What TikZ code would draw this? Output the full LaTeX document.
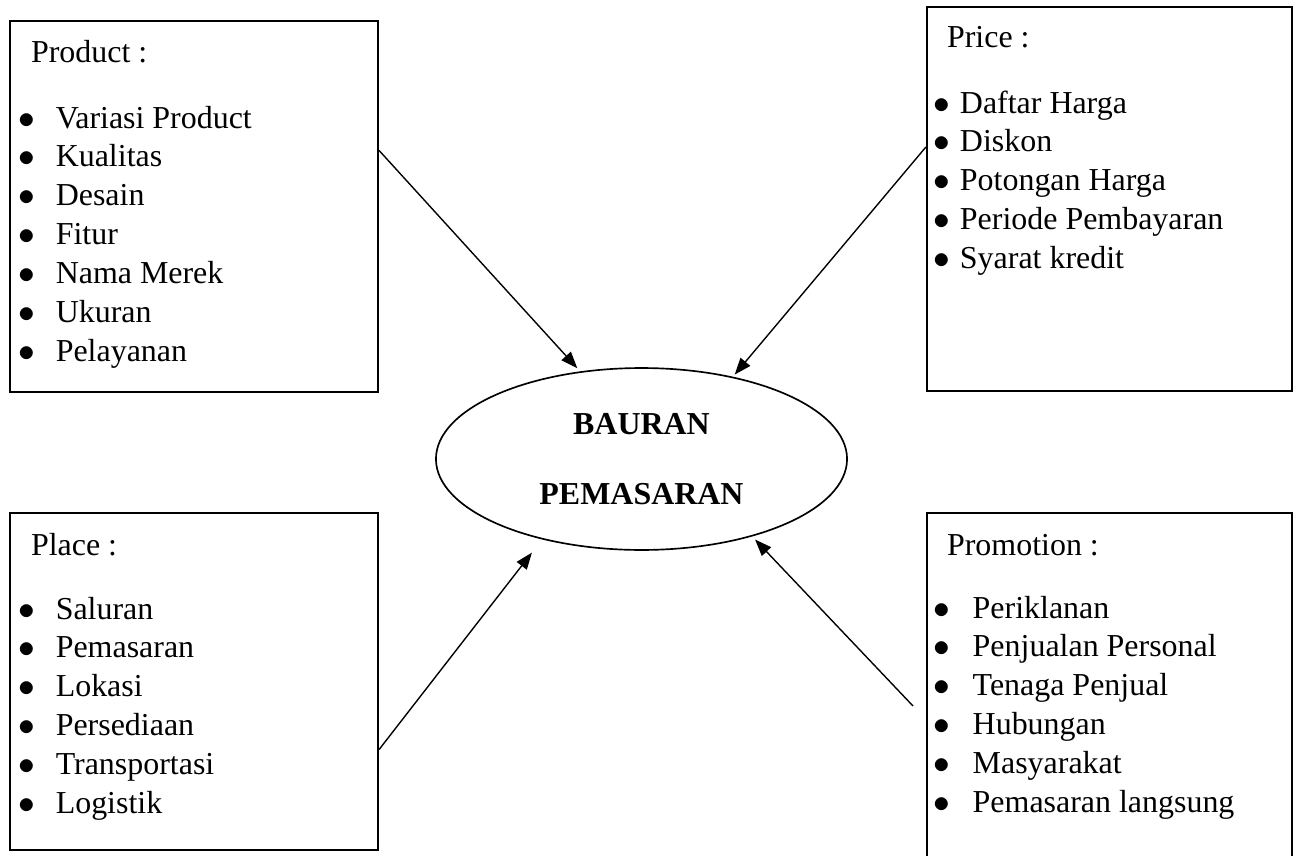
\documentclass[tikz,border=0pt]{standalone}
\usepackage{fontspec}
\setmainfont{Liberation Serif}
\usetikzlibrary{calc,fit,shapes.geometric,arrows.meta}

\tikzset{
  box/.style={draw, line width=0.8pt, inner sep=0pt},
  hub/.style={draw, ellipse, line width=0.6pt, minimum width=148pt, minimum height=65.5pt,
    inner sep=0pt, align=center, font=\bfseries\fontsize{11.5}{25}\selectfont},
  head/.style={anchor=base west, inner sep=0pt, font=\fontsize{11.5}{14}\selectfont},
  items/.style={anchor=base west, inner sep=0pt, font=\fontsize{11.5}{14}\selectfont},
  arr/.style={-{Triangle[length=6pt,width=4.5pt]}, line width=0.5pt}
}
\newcommand{\blt}[1]{\makebox[#1][l]{{\fontsize{13}{14}\selectfont$\bullet$}}}

\begin{document}
\begin{tikzpicture}[x=0.36pt,y=-0.36pt]
\fill[white] (0,0) rectangle (1300,855);
\useasboundingbox (0,0) rectangle (1300,855);

% Boxes
\node[box, fit={(10,21) (378,392)}] (product) {};
\node[box, fit={(927,7) (1292,391)}] (price) {};
\node[box, fit={(10,513) (378,850)}] (place) {};
\node[box, fit={(927,513) (1292,880)}] (promotion) {};

% Centre
\node[hub] (bauran) at (641.5,459) {BAURAN\\PEMASARAN};

% Product
\node[head] (producthead) at (30.5,63) {Product :};
\node[items] (productlist) at (18,128) {\begin{tabular}[t]{@{}l@{}}
  \blt{13.4pt}Variasi Product\\
  \blt{13.4pt}Kualitas\\
  \blt{13.4pt}Desain\\
  \blt{13.4pt}Fitur\\
  \blt{13.4pt}Nama Merek\\
  \blt{13.4pt}Ukuran\\
  \blt{13.4pt}Pelayanan
\end{tabular}};

% Price
\node[head] (pricehead) at (946.5,48) {Price :};
\node[items] (pricelist) at (933,113) {\begin{tabular}[t]{@{}l@{}}
  \blt{9.5pt}Daftar Harga\\
  \blt{9.5pt}Diskon\\
  \blt{9.5pt}Potongan Harga\\
  \blt{9.5pt}Periode Pembayaran\\
  \blt{9.5pt}Syarat kredit
\end{tabular}};

% Place
\node[head] (placehead) at (30.5,555) {Place :};
\node[items] (placelist) at (18,619) {\begin{tabular}[t]{@{}l@{}}
  \blt{13.4pt}Saluran\\
  \blt{13.4pt}Pemasaran\\
  \blt{13.4pt}Lokasi\\
  \blt{13.4pt}Persediaan\\
  \blt{13.4pt}Transportasi\\
  \blt{13.4pt}Logistik
\end{tabular}};

% Promotion
\node[head] (promotionhead) at (946.5,555) {Promotion :};
\node[items] (promotionlist) at (933,618) {\begin{tabular}[t]{@{}l@{}}
  \blt{14.1pt}Periklanan\\
  \blt{14.1pt}Penjualan Personal\\
  \blt{14.1pt}Tenaga Penjual\\
  \blt{14.1pt}Hubungan\\
  \blt{14.1pt}Masyarakat\\
  \blt{14.1pt}Pemasaran langsung
\end{tabular}};

% Arrows
\coordinate (promotionstart) at (913,706);
\draw[arr, shorten >=1.5pt] ($(product.east)+(0,-56)$) -- (bauran.125);
\draw[arr, shorten >=1pt] ($(price.west)+(0,-52)$) -- (bauran.42);
\draw[arr, shorten >=6pt] ($(place.east)+(0,68)$) -- (bauran.219);
\draw[arr, shorten >=1.5pt] (promotionstart) -- (bauran.325);
\end{tikzpicture}
\end{document}
